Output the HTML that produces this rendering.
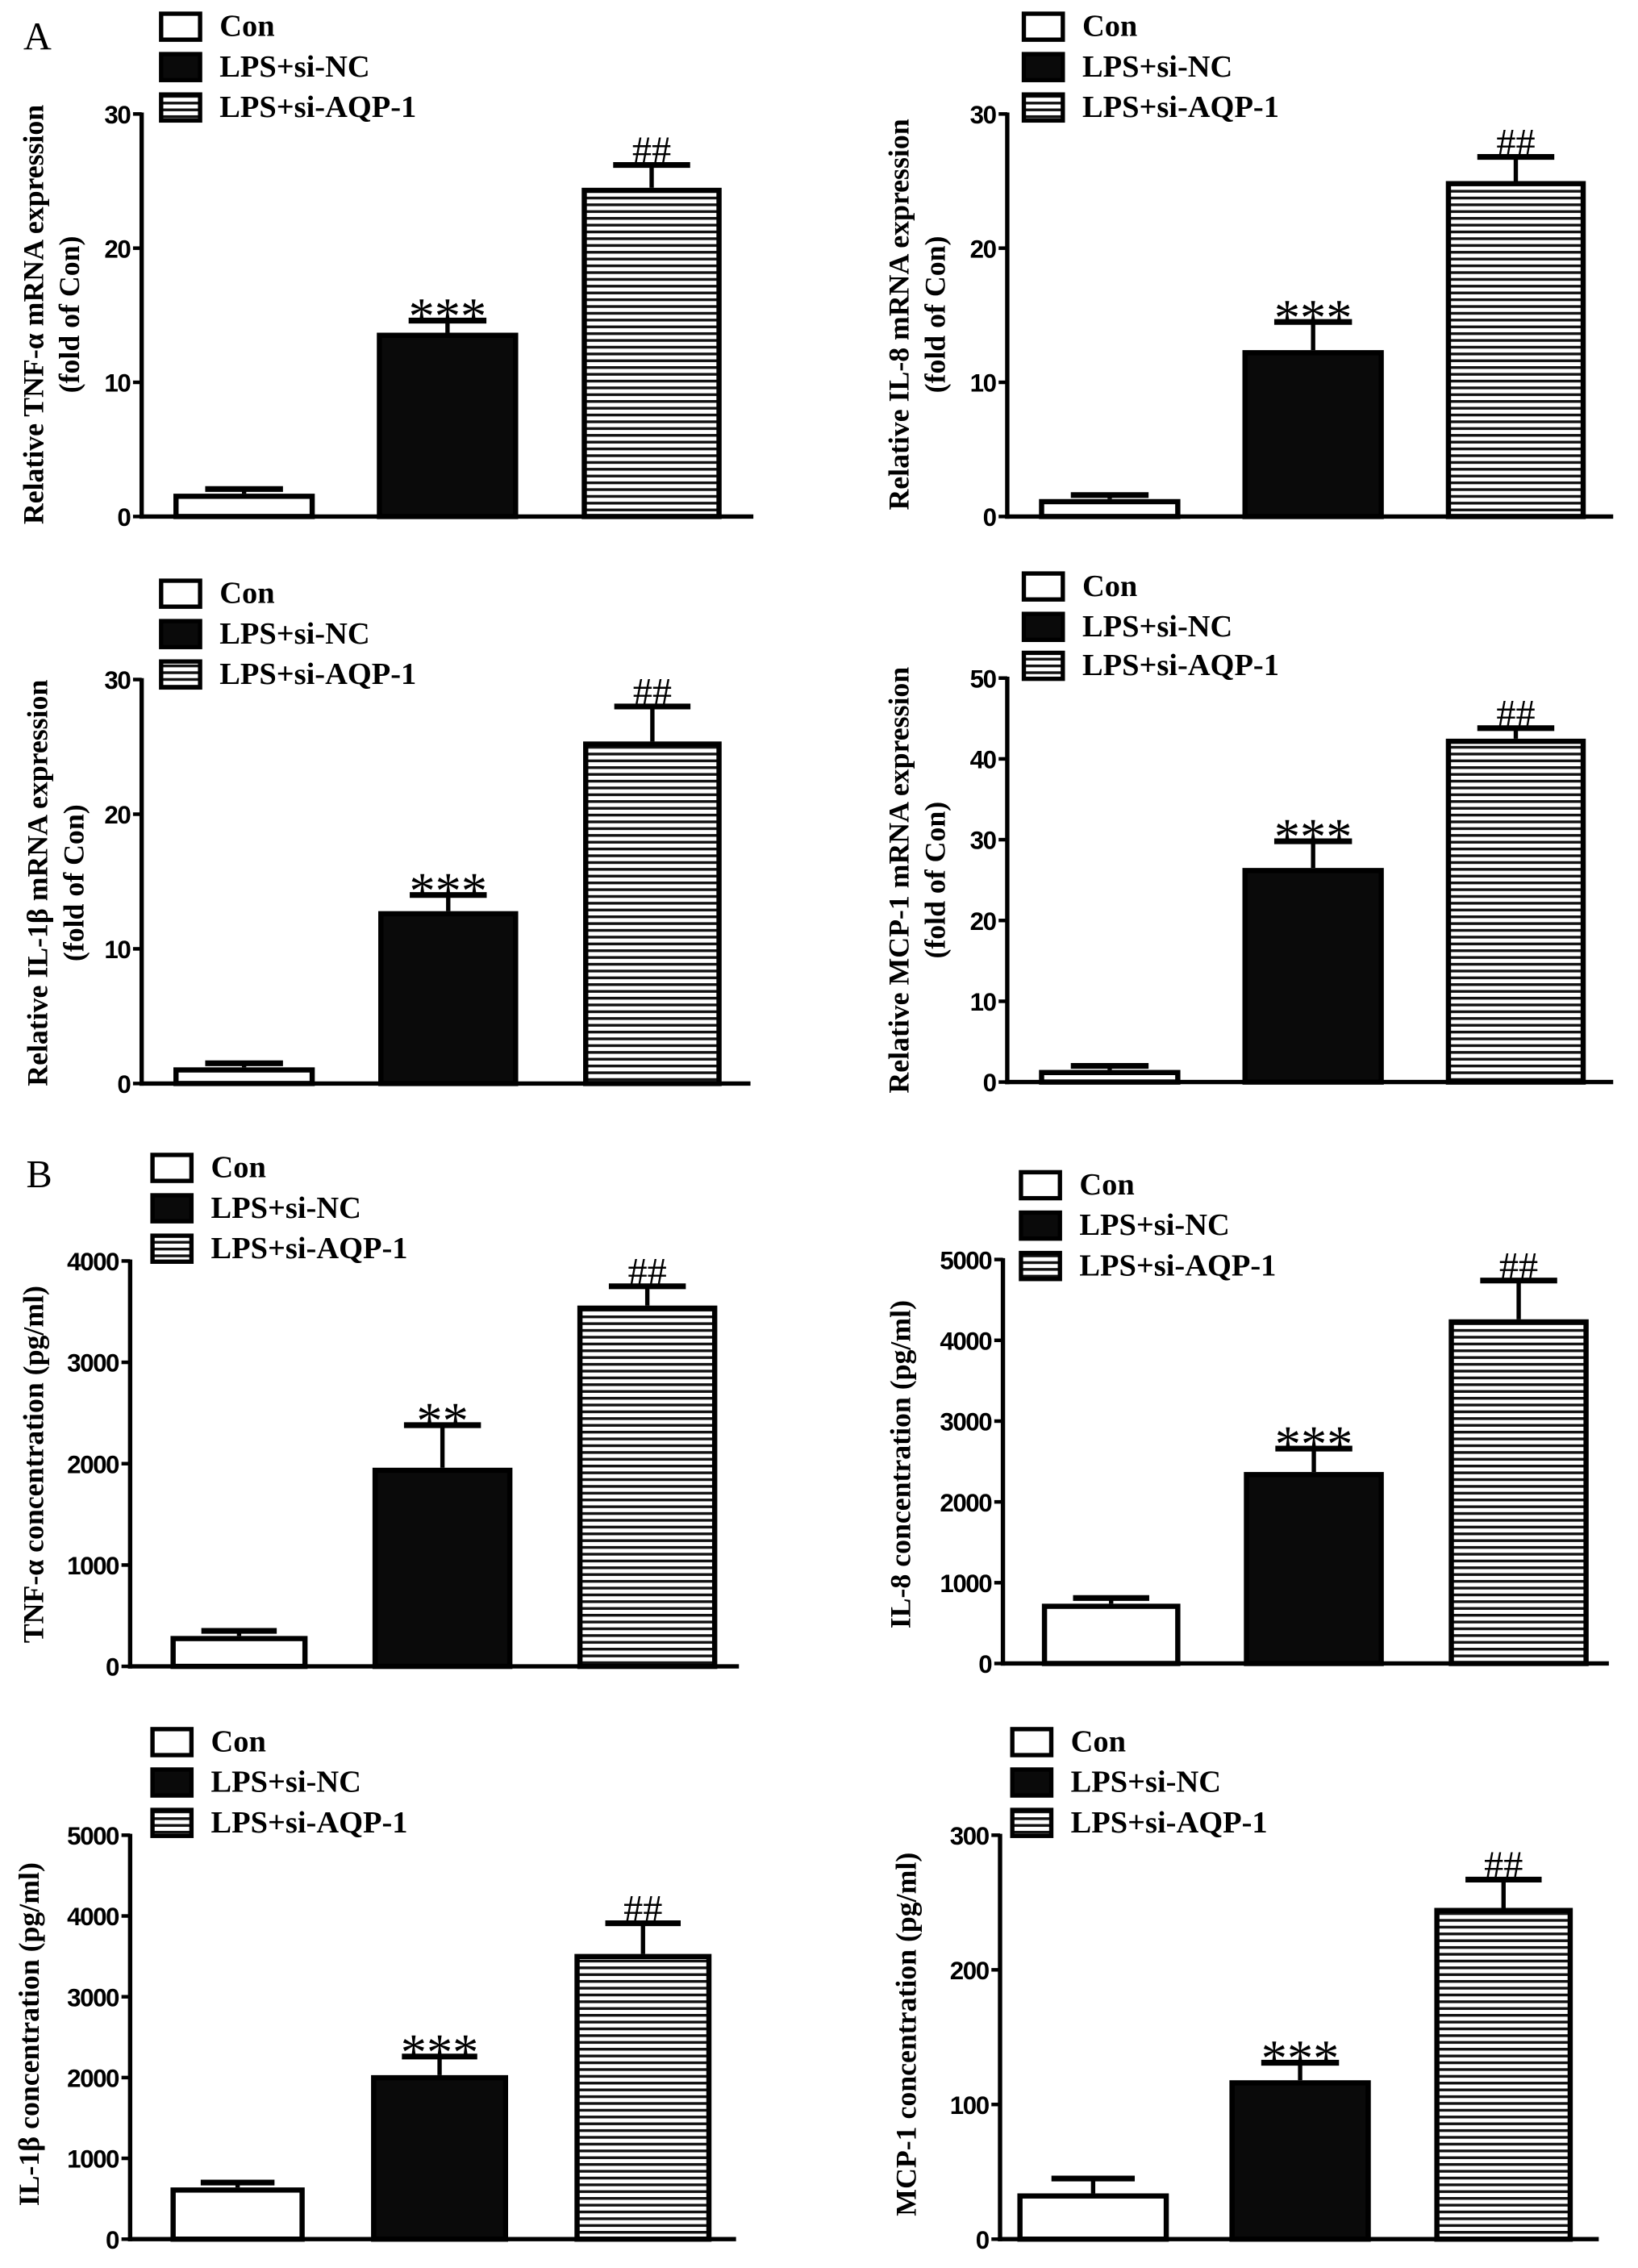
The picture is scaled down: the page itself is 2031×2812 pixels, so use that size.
<!DOCTYPE html>
<html><head><meta charset="utf-8"><style>
html,body{margin:0;padding:0;background:#fff;}
svg{display:block;}
</style></head><body>
<svg id="fig" xmlns="http://www.w3.org/2000/svg" width="2031" height="2812" viewBox="0 0 1135 1572">
<defs>
<pattern id="stripes" patternUnits="userSpaceOnUse" width="10" height="4.7">
<rect x="0" y="0" width="10" height="4.7" fill="#fff"/>
<rect x="0" y="0" width="10" height="1.9" fill="#111"/>
</pattern>
</defs>
<text x="16" y="34" font-family="Liberation Serif, serif" font-size="27">A</text>
<text x="18" y="823" font-family="Liberation Serif, serif" font-size="27">B</text>
</svg>
<script>
const categories = ['Con','LPS+si-NC','LPS+si-AQP-1'];
const valsA1 = [1.7, 13.7, 24.5];   const errA1 = [0.35, 0.9, 1.7];
const valsA2 = [1.3, 12.4, 25.0];   const errA2 = [0.3, 2.1, 1.8];
const valsA3 = [1.2, 12.8, 25.4];   const errA3 = [0.3, 1.2, 2.6];
const valsA4 = [1.5, 26.5, 42.5];   const errA4 = [0.5, 3.3, 1.3];
const valsB1 = [300, 1960, 3560];   const errB1 = [50, 420, 190];
const valsB2 = [740, 2370, 4260];   const errB2 = [70, 290, 480];
const valsB3 = [640, 2030, 3530];   const errB3 = [60, 230, 380];
const valsB4 = [34, 118, 246];      const errB4 = [11, 13, 21];
const ticksA = [0, 10, 20, 30];
const ticksA4 = [0, 10, 20, 30, 40, 50];
const ticksB1 = [0, 1000, 2000, 3000, 4000];
const ticksB5k = [0, 1000, 2000, 3000, 4000, 5000];
const ticksB4 = [0, 100, 200, 300];
const sigA = ['', '***', '##'];
const sigB1 = ['', '**', '##'];
const sigB = ['', '***', '##'];

const NS = 'http://www.w3.org/2000/svg';
const svg = document.getElementById('fig');
function mk(tag, attrs, parent) {
  const e = document.createElementNS(NS, tag);
  for (const k in attrs) e.setAttribute(k, attrs[k]);
  (parent || svg).appendChild(e);
  return e;
}
const panels = [
  {id:'a1', vals:valsA1, errs:errA1, ticks:ticksA, sig:sigA, ax:98, top:79, bot:358, end:522, bars:[[120,218],[261,359],[403,500]], lx:110, ly:[17,45,73], title:['Relative TNF-α mRNA expression','(fold of Con)'], tx:[25,50], tcy:218},
  {id:'a2', vals:valsA2, errs:errA2, ticks:ticksA, sig:sigA, ax:698, top:79, bot:358, end:1118, bars:[[720,818],[861,959],[1002,1099]], lx:708, ly:[17,45,73], title:['Relative IL-8 mRNA expression','(fold of Con)'], tx:[625,650], tcy:218},
  {id:'a3', vals:valsA3, errs:errA3, ticks:ticksA, sig:sigA, ax:98, top:471, bot:751, end:520, bars:[[120,218],[262,359],[404,500]], lx:110, ly:[410,438,466], title:['Relative IL-1β mRNA expression','(fold of Con)'], tx:[28,53], tcy:612},
  {id:'a4', vals:valsA4, errs:errA4, ticks:ticksA4, sig:sigA, ax:698, top:470, bot:750, end:1118, bars:[[720,818],[861,959],[1002,1099]], lx:708, ly:[405,433,460], title:['Relative MCP-1 mRNA expression','(fold of Con)'], tx:[625,650], tcy:610},
  {id:'b1', vals:valsB1, errs:errB1, ticks:ticksB1, sig:sigB1, ax:90, top:874, bot:1155, end:512, bars:[[118,213],[258,355],[400,497]], lx:104, ly:[808,836,864], title:['TNF-α  concentration (pg/ml)'], tx:[25], tcy:1015},
  {id:'b2', vals:valsB2, errs:errB2, ticks:ticksB5k, sig:sigB, ax:695, top:873, bot:1153, end:1115, bars:[[722,818],[862,959],[1004,1101]], lx:706, ly:[820,848,876], title:['IL-8  concentration (pg/ml)'], tx:[626], tcy:1015},
  {id:'b3', vals:valsB3, errs:errB3, ticks:ticksB5k, sig:sigB, ax:90, top:1272, bot:1552, end:510, bars:[[118,211],[257,352],[398,493]], lx:104, ly:[1206,1234,1262], title:['IL-1β  concentration (pg/ml)'], tx:[22], tcy:1410},
  {id:'b4', vals:valsB4, errs:errB4, ticks:ticksB4, sig:sigB, ax:693, top:1272, bot:1552, end:1108, bars:[[705,810],[852,950],[994,1090]], lx:700, ly:[1206,1234,1262], title:['MCP-1  concentration (pg/ml)'], tx:[630], tcy:1410}
];
const fills = ['#fff', '#0a0a0a', 'url(#stripes)'];
panels.forEach(p => {
  const g = mk('g', {});
  
  
  const tmax = p.ticks[p.ticks.length - 1];
  const y = v => p.bot - (v / tmax) * (p.bot - p.top);
  p.vals.forEach((v, i) => {
    const [x0, x1] = p.bars[i];
    const yt = y(v), ye = y(v + p.errs[i]);
    const cx = (x0 + x1) / 2, cw = (x1 - x0) * 0.55;
    const el = mk('line', {x1:cx, x2:cx, y1:yt, y2:ye, stroke:'#000', 'stroke-width':3}, g);
    
    
    const cap = mk('line', {x1:cx - cw/2, x2:cx + cw/2, y1:ye, y2:ye, stroke:'#000', 'stroke-width':4}, g);
    
    
    const r = mk('rect', {x:x0 + 1.8, y:yt + 1.8, width:x1 - x0 - 3.6, height:Math.max(0, p.bot - yt - 1.8), fill:fills[i], stroke:'#000', 'stroke-width':3.6}, g);
    
    
    if (p.sig[i]) {
      const isStar = p.sig[i].indexOf('*') >= 0;
      const t = mk('text', {x:cx, y:ye + (isStar ? 9 : -1), 'text-anchor':'middle', 'font-family':'Liberation Serif, serif', 'font-size':isStar ? 36 : 27}, g);
      t.textContent = p.sig[i];
      
      
    }
  });
  const ya = mk('line', {x1:p.ax, x2:p.ax, y1:p.top - 1, y2:p.bot + 1.5, stroke:'#000', 'stroke-width':3}, g);
  
  
  const xa = mk('line', {x1:p.ax - 1.5, x2:p.end, y1:p.bot, y2:p.bot, stroke:'#000', 'stroke-width':3}, g);
  
  
  p.ticks.forEach(t => {
    const tl = mk('line', {x1:p.ax - 6, x2:p.ax, y1:y(t), y2:y(t), stroke:'#000', 'stroke-width':2.5}, g);
    
    
    const tx = mk('text', {x:p.ax - 8, y:y(t) + 6.5, 'text-anchor':'end', 'font-family':'Liberation Sans, sans-serif', 'font-weight':'bold', 'font-size':17.5, 'letter-spacing':'-0.8'}, g);
    tx.textContent = t;
    
    
  });
  p.title.forEach((s, k) => {
    const tt = mk('text', {x:p.tx[k], y:p.tcy, 'text-anchor':'middle', 'font-family':'Liberation Serif, serif', 'font-weight':'bold', 'font-size':20, transform:'rotate(-90 ' + p.tx[k] + ' ' + p.tcy + ')', 'dominant-baseline':'middle'}, g);
    tt.textContent = s;
    
    
  });
  categories.forEach((c, i) => {
    const lb = mk('rect', {x:p.lx + 1.5, y:p.ly[i] - 7.5, width:27, height:18, fill:fills[i], stroke:'#000', 'stroke-width':3}, g);
    
    
    const lt = mk('text', {x:p.lx + 42, y:p.ly[i] + 8, 'font-family':'Liberation Serif, serif', 'font-weight':'bold', 'font-size':21.5}, g);
    lt.textContent = c;
    
    
  });
});
</script>
</body></html>
